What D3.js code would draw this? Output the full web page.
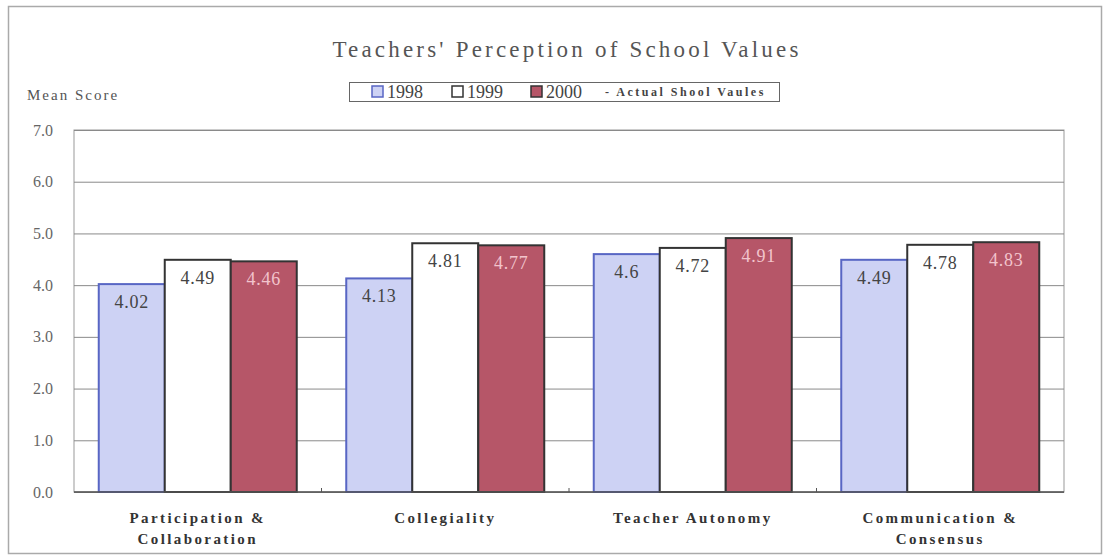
<!DOCTYPE html>
<meta charset="utf-8">
<title>Teachers' Perception of School Values</title>
<style>
    body { margin: 0; background: #fff; }
    text { font-family: "Liberation Serif", "Times New Roman", serif; }
</style>
<body>
</body>
<script src="https://d3js.org/d3.v7.min.js"></script>
<script>
    const categories = [
        ["Participation &", "Collaboration"],
        ["Collegiality"],
        ["Teacher Autonomy"],
        ["Communication &", "Consensus"]
    ];
    const seriesNames = ["1998", "1999", "2000"];
    const v1998 = [4.02, 4.13, 4.6, 4.49];
    const v1999 = [4.49, 4.81, 4.72, 4.78];
    const v2000 = [4.46, 4.77, 4.91, 4.83];
    const yTicks = [0, 1, 2, 3, 4, 5, 6, 7];

    const width = 1107, height = 557;
    const plot = {left: 74, right: 1064, top: 130, bottom: 492};
    const serif = "Liberation Serif, Times New Roman, serif";

    const fills = ["#cdd2f4", "#ffffff", "#b65668"];
    const strokes = ["#5866c4", "#333333", "#333333"];
    const labelColors = ["#444", "#444", "#f2c4cc"];

    const values = [v1998, v1999, v2000];

    const svg = d3.select("body").append("svg")
        .attr("width", width)
        .attr("height", height);

    // outer frame
    svg.append("rect")
        .attr("x", 8.5).attr("y", 6.5)
        .attr("width", 1093).attr("height", 547)
        .attr("fill", "#fff")
        .attr("stroke", "#aaa")
        .attr("stroke-width", 1.5);

    const x = d3.scaleBand()
        .domain(d3.range(categories.length))
        .range([plot.left, plot.right])
        .paddingInner(0.2)
        .paddingOuter(0.1);

    const xs = d3.scaleBand()
        .domain(d3.range(seriesNames.length))
        .range([0, x.bandwidth()]);

    const y = d3.scaleLinear()
        .domain([0, 7])
        .range([plot.bottom, plot.top]);

    // plot area
    svg.append("rect")
        .attr("x", plot.left).attr("y", plot.top)
        .attr("width", plot.right - plot.left)
        .attr("height", plot.bottom - plot.top)
        .attr("fill", "#fff")
        .attr("stroke", "#999");

    // gridlines + y labels
    const yAxis = d3.axisLeft(y)
        .tickValues(yTicks)
        .tickFormat(d3.format(".1f"))
        .tickSize(-(plot.right - plot.left))
        .tickPadding(21);

    svg.append("g")
        .attr("transform", `translate(${plot.left},0)`)
        .call(yAxis)
        .call(g => g.select(".domain").remove())
        .call(g => g.selectAll(".tick line").attr("stroke", "#8a8a8a"))
        .call(g => g.selectAll(".tick text")
            .style("font-family", serif)
            .style("font-size", "16px")
            .attr("fill", "#666"));

    // bars
    const groups = svg.append("g")
        .selectAll("g")
        .data(categories)
        .join("g")
        .attr("transform", (d, i) => `translate(${x(i)},0)`);

    groups.selectAll("rect")
        .data((d, i) => values.map((s, j) => ({s: j, v: s[i]})))
        .join("rect")
        .attr("x", d => xs(d.s))
        .attr("y", d => y(d.v))
        .attr("width", xs.bandwidth())
        .attr("height", d => y(0) - y(d.v))
        .attr("fill", d => fills[d.s])
        .attr("stroke", d => strokes[d.s])
        .attr("stroke-width", 2);

    groups.selectAll("text.val")
        .data((d, i) => values.map((s, j) => ({s: j, v: s[i]})))
        .join("text")
        .attr("class", "val")
        .attr("x", d => xs(d.s) + xs.bandwidth() / 2)
        .attr("y", d => y(d.v) + 24)
        .attr("text-anchor", "middle")
        .attr("font-family", serif)
        .attr("font-size", 18)
        .attr("letter-spacing", 0.8)
        .attr("fill", d => labelColors[d.s])
        .text(d => d.v);

    // x axis line and inside ticks
    svg.append("line")
        .attr("x1", plot.left).attr("x2", plot.right)
        .attr("y1", plot.bottom).attr("y2", plot.bottom)
        .attr("stroke", "#555").attr("stroke-width", 1.5);

    svg.append("g")
        .selectAll("line")
        .data(d3.range(1, categories.length))
        .join("line")
        .attr("x1", i => x(i) - x.step() * x.paddingInner() / 2)
        .attr("x2", i => x(i) - x.step() * x.paddingInner() / 2)
        .attr("y1", plot.bottom - 4).attr("y2", plot.bottom)
        .attr("stroke", "#555");

    // category labels
    svg.append("g")
        .selectAll("text")
        .data(categories)
        .join("text")
        .attr("x", (d, i) => x(i) + x.bandwidth() / 2)
        .attr("y", 523)
        .attr("text-anchor", "middle")
        .attr("font-family", serif)
        .attr("font-size", 15)
        .attr("font-weight", "bold")
        .attr("letter-spacing", 2.4)
        .attr("fill", "#333")
        .selectAll("tspan")
        .data(d => d)
        .join("tspan")
        .attr("x", function () { return this.parentNode.getAttribute("x"); })
        .attr("dy", (d, i) => i === 0 ? 0 : 21)
        .text(d => d);

    // title
    svg.append("text")
        .attr("x", 567).attr("y", 57)
        .attr("text-anchor", "middle")
        .attr("font-family", serif)
        .attr("font-size", 23)
        .attr("letter-spacing", 3.2)
        .attr("fill", "#555")
        .text("Teachers' Perception of School Values");

    svg.append("text")
        .attr("x", 27).attr("y", 100)
        .attr("font-family", serif)
        .attr("font-size", 15)
        .attr("letter-spacing", 2)
        .attr("fill", "#555")
        .text("Mean Score");

    // legend
    const legend = svg.append("g");
    legend.append("rect")
        .attr("x", 349.5).attr("y", 82.5)
        .attr("width", 430).attr("height", 19)
        .attr("fill", "#fff")
        .attr("stroke", "#666");

    const legendX = [372, 452, 531];
    const items = legend.selectAll("g.item")
        .data(seriesNames)
        .join("g")
        .attr("class", "item")
        .attr("transform", (d, i) => `translate(${legendX[i]},0)`);

    items.append("rect")
        .attr("x", 0).attr("y", 86)
        .attr("width", 11).attr("height", 11)
        .attr("fill", (d, i) => fills[i])
        .attr("stroke", (d, i) => strokes[i])
        .attr("stroke-width", 1.5);

    items.append("text")
        .attr("x", 15).attr("y", 98)
        .style("font-family", serif)
        .attr("font-size", 18)
        .attr("fill", "#444")
        .text(d => d);

    legend.append("text")
        .attr("x", 605).attr("y", 96)
        .attr("font-family", serif)
        .attr("font-size", 12)
        .attr("font-weight", "bold")
        .attr("letter-spacing", 2.5)
        .attr("fill", "#444")
        .text("- Actual Shool Vaules");
</script>
